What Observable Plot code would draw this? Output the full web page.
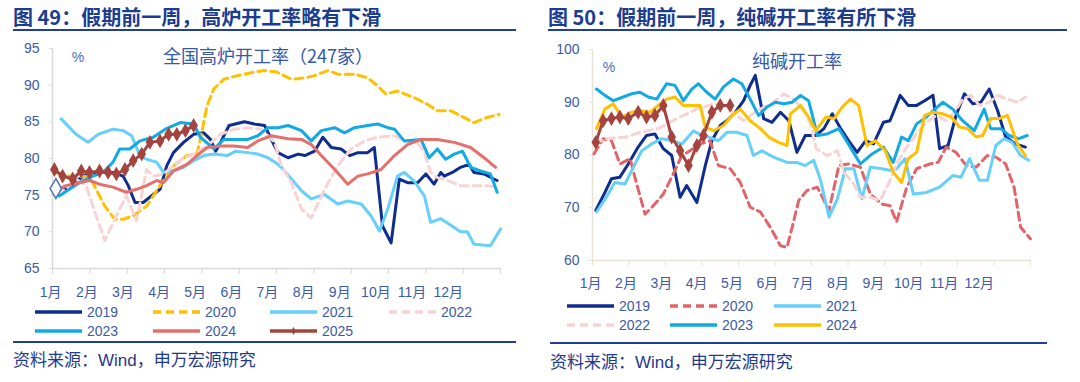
<!DOCTYPE html>
<html><head><meta charset="utf-8">
<script src="https://cdn.jsdelivr.net/npm/d3@7"></script>
<script src="https://cdn.jsdelivr.net/npm/@observablehq/plot@0.6"></script>
<style>
body{margin:0;width:1080px;height:382px;background:#fff;position:relative;overflow:hidden;font-family:"Liberation Sans","Noto Sans CJK SC",sans-serif;}
.abs{position:absolute;white-space:nowrap;line-height:1;}
.title{font-family:"Noto Sans CJK SC";font-weight:bold;font-size:20px;color:#1b3c8f;}
.rule{height:2px;background:#1f3f99;}
.caption{font-family:"Liberation Sans","Noto Sans CJK SC";font-size:17px;color:#1f3a8a;}
.leg{font-size:14px;color:#3c5aa8;}
.inner{font-family:"Noto Sans CJK SC";font-size:18px;color:#3558a8;transform:translate(-50%,-50%);}
.pct{font-size:14px;color:#4a6cc0;transform:translate(-50%,-50%);}
</style></head><body>
<script>
// ---------- data ----------
const monthLabels = ["1月","2月","3月","4月","5月","6月","7月","8月","9月","10月","11月","12月"];

// Left: 全国高炉开工率（247家）, x = position in months, y = %
const bf2019 = [[0.09,75.9],[0.36,75.8],[0.72,77.2],[0.99,78.1],[1.26,78.1],[1.62,78.1],[1.89,77.6],[2.03,76.3],[2.21,74.0],[2.43,74.0],[2.70,75.1],[2.88,75.8],[3.06,79.0],[3.24,80.8],[3.51,82.2],[3.78,83.3],[4.05,83.5],[4.23,82.6],[4.37,81.0],[4.50,82.2],[4.73,84.5],[5.14,85.0],[5.41,84.7],[5.68,84.5],[5.95,81.7],[6.04,80.8],[6.31,80.1],[6.58,80.6],[6.76,80.4],[7.02,81.0],[7.24,82.9],[7.47,81.5],[7.73,81.3],[7.96,80.4],[8.18,80.8],[8.44,80.8],[8.62,81.5],[8.84,70.8],[9.07,68.5],[9.29,77.2],[9.51,76.7],[9.78,76.7],[10.0,77.9],[10.22,76.5],[10.40,78.1],[10.49,77.6],[10.71,78.1],[10.93,78.8],[11.16,79.2],[11.29,78.1],[11.56,77.9],[11.82,77.2],[11.91,77.0]];
const bf2020 = [[0.09,78.1],[0.54,77.5],[0.80,77.5],[0.99,77.6],[1.17,75.8],[1.40,73.5],[1.67,71.7],[1.89,71.7],[2.16,72.2],[2.52,73.5],[2.88,76.3],[3.24,79.0],[3.60,80.4],[3.87,80.6],[3.96,82.6],[4.14,87.2],[4.32,89.5],[4.59,90.8],[4.95,91.3],[5.32,91.7],[5.68,92.0],[6.0,91.8],[6.40,90.8],[6.76,91.0],[7.02,91.3],[7.38,92.0],[7.64,91.5],[8.09,91.5],[8.44,91.0],[8.71,89.9],[8.93,88.8],[9.24,89.2],[9.69,88.3],[10.04,87.4],[10.31,86.5],[10.67,86.5],[11.02,85.6],[11.29,84.9],[11.64,85.6],[11.96,86.0]];
const bf2021 = [[0.23,85.4],[0.63,83.3],[0.95,82.2],[1.22,83.3],[1.62,84.0],[1.89,83.8],[2.12,83.1],[2.34,80.4],[2.52,79.9],[2.79,79.5],[2.97,78.1],[3.24,78.3],[3.51,78.8],[3.78,79.7],[4.05,80.4],[4.32,80.6],[4.68,80.4],[4.91,81.0],[5.23,80.8],[5.50,80.6],[5.77,80.1],[6.04,79.2],[6.13,78.8],[6.40,77.2],[6.67,75.6],[6.93,74.5],[7.29,75.1],[7.64,73.8],[7.91,74.2],[8.27,73.8],[8.53,72.2],[8.76,70.1],[8.98,73.1],[9.24,77.6],[9.42,78.1],[9.69,76.9],[9.96,74.9],[10.13,71.3],[10.40,71.8],[10.67,70.9],[10.93,70.0],[11.11,70.0],[11.29,68.3],[11.73,68.1],[12.0,70.4]];
const bf2022 = [[0.09,75.4],[0.36,75.8],[0.63,77.2],[0.90,76.3],[1.17,72.2],[1.40,68.8],[1.71,72.2],[1.98,74.9],[2.25,71.5],[2.52,78.5],[2.70,77.6],[2.97,77.9],[3.24,79.0],[3.51,80.1],[3.78,80.6],[4.14,81.7],[4.50,83.3],[4.86,84.0],[5.23,84.2],[5.59,84.0],[5.95,82.2],[6.13,79.0],[6.40,76.7],[6.67,73.1],[6.93,71.9],[7.29,75.8],[7.64,79.0],[8.0,81.3],[8.36,82.4],[8.71,82.9],[9.16,83.1],[9.42,82.4],[9.78,82.2],[9.96,80.8],[10.13,78.1],[10.31,77.4],[10.58,77.0],[10.93,76.3],[11.29,76.3],[11.64,76.3],[11.91,76.1]];
const bf2023 = [[0.18,74.9],[0.45,75.8],[0.72,76.7],[1.08,77.6],[1.35,78.1],[1.62,79.5],[1.80,81.3],[2.07,81.3],[2.34,82.4],[2.70,82.9],[3.02,84.0],[3.42,84.9],[3.78,84.7],[3.96,82.9],[4.32,81.3],[4.59,82.6],[5.23,82.6],[5.50,83.1],[5.77,84.2],[6.04,84.2],[6.31,84.5],[6.67,83.8],[6.93,82.4],[7.20,83.8],[7.56,84.2],[7.82,83.5],[8.09,84.2],[8.44,84.5],[8.71,84.7],[8.98,84.2],[9.16,84.0],[9.42,82.4],[9.87,82.6],[10.09,80.1],[10.31,81.3],[10.53,79.9],[10.76,80.6],[10.98,81.0],[11.20,78.8],[11.47,78.3],[11.73,77.9],[11.91,75.4]];
const bf2024 = [[0.09,75.6],[0.36,76.3],[0.72,76.7],[0.99,77.0],[1.26,76.5],[1.62,76.1],[1.98,75.4],[2.25,75.8],[2.52,76.3],[2.79,77.0],[2.97,76.7],[3.24,78.3],[3.60,79.2],[3.87,80.4],[4.14,81.5],[4.50,81.7],[4.86,81.7],[5.23,81.5],[5.50,82.4],[5.86,83.1],[6.31,82.7],[6.67,82.6],[6.93,81.9],[7.20,80.4],[7.56,78.5],[7.91,76.5],[8.18,77.6],[8.44,77.9],[8.80,78.5],[9.16,80.4],[9.51,81.9],[9.87,82.6],[10.31,82.6],[10.76,82.2],[11.20,81.5],[11.56,80.1],[11.87,78.8]];
const bf2025 = [[0.05,78.5],[0.27,77.6],[0.54,77.2],[0.77,78.3],[0.99,78.1],[1.26,78.3],[1.49,78.1],[1.71,77.9],[1.94,78.5],[2.16,79.7],[2.39,80.6],[2.61,82.2],[2.88,82.4],[3.11,83.3],[3.33,83.3],[3.56,83.8],[3.78,84.5]];

// Right: 纯碱开工率
const sa2019 = [[0.09,69.5],[0.34,72.9],[0.52,75.5],[0.75,75.8],[0.98,78.3],[1.25,81.5],[1.48,83.7],[1.71,84.0],[1.94,81.2],[2.17,79.9],[2.40,72.0],[2.58,74.2],[2.86,71.0],[3.09,78.0],[3.27,82.7],[3.50,85.6],[3.68,86.5],[3.91,88.1],[4.14,90.3],[4.32,93.2],[4.46,95.1],[4.69,86.9],[4.92,86.2],[5.15,88.1],[5.38,86.5],[5.60,80.5],[5.83,83.7],[6.12,83.7],[6.34,85.0],[6.57,87.8],[6.80,85.0],[7.02,82.7],[7.25,80.5],[7.48,82.7],[7.70,82.1],[7.97,86.2],[8.15,86.5],[8.43,91.3],[8.65,89.4],[8.88,89.4],[9.10,90.3],[9.33,91.3],[9.51,81.2],[9.74,81.8],[9.96,87.5],[10.19,91.6],[10.42,89.7],[10.64,90.0],[10.87,92.5],[11.10,88.4],[11.32,83.4],[11.59,82.1],[11.86,81.5]];
const sa2020 = [[0.04,80.2],[0.29,83.1],[0.52,82.7],[0.75,78.3],[1.03,79.3],[1.21,74.5],[1.44,68.8],[1.67,70.4],[1.94,72.6],[2.17,75.8],[2.45,79.9],[2.67,80.8],[2.95,82.1],[3.22,82.7],[3.45,78.0],[3.77,77.4],[4.05,74.8],[4.32,70.1],[4.60,69.2],[4.87,66.3],[5.15,62.8],[5.33,62.5],[5.47,66.3],[5.65,71.4],[5.88,73.3],[6.16,73.9],[6.48,69.5],[6.75,78.0],[7.02,78.3],[7.34,77.7],[7.61,72.6],[7.93,70.7],[8.15,70.4],[8.33,67.3],[8.61,73.9],[8.88,77.4],[9.24,78.3],[9.47,78.6],[9.69,81.5],[9.96,80.5],[10.24,78.0],[10.51,77.7],[10.82,79.9],[11.05,79.6],[11.32,78.3],[11.55,73.9],[11.73,66.3],[12.0,64.1]];
const sa2021 = [[0.11,69.2],[0.38,72.0],[0.61,74.8],[0.89,74.5],[1.12,77.7],[1.35,80.8],[1.62,82.1],[1.90,83.1],[2.17,82.7],[2.45,82.1],[2.77,84.6],[2.99,83.7],[3.18,83.4],[3.45,82.7],[3.68,84.3],[3.96,84.3],[4.23,83.7],[4.41,79.9],[4.64,80.8],[4.96,79.6],[5.33,78.6],[5.60,78.6],[5.83,78.0],[6.06,79.0],[6.25,75.2],[6.48,68.2],[6.71,71.7],[6.93,77.4],[7.16,77.4],[7.38,71.7],[7.61,77.7],[7.93,77.4],[8.15,77.1],[8.33,77.4],[8.56,79.3],[8.79,72.6],[9.15,72.9],[9.51,73.9],[9.87,76.1],[10.10,75.8],[10.33,79.3],[10.60,75.2],[10.82,75.2],[11.05,81.8],[11.28,83.1],[11.50,82.4],[11.73,79.9],[11.95,79.0]];
const sa2022 = [[0.06,82.1],[0.34,83.1],[0.93,83.4],[1.30,84.3],[1.80,85.0],[2.31,86.9],[2.86,88.7],[3.32,89.7],[3.68,89.1],[4.14,86.5],[4.51,88.4],[4.96,90.0],[5.24,91.6],[5.51,90.6],[5.79,88.4],[5.97,85.9],[6.13,81.2],[6.43,79.9],[6.71,80.8],[6.89,76.7],[7.16,74.5],[7.34,72.0],[7.61,72.0],[7.88,71.4],[8.11,74.5],[8.33,78.3],[8.61,81.5],[8.88,84.0],[9.15,86.2],[9.42,87.5],[9.69,86.5],[9.92,88.1],[10.14,90.6],[10.37,91.3],[10.60,89.4],[10.87,90.0],[11.10,91.3],[11.37,90.6],[11.64,90.0],[11.86,91.0]];
const sa2023 = [[0.11,92.5],[0.34,91.3],[0.57,90.3],[0.84,91.0],[1.07,91.6],[1.30,91.9],[1.53,91.0],[1.76,90.6],[2.03,93.5],[2.26,93.2],[2.49,90.3],[2.72,92.5],[2.90,93.5],[3.13,91.9],[3.36,90.6],[3.59,92.9],[3.86,94.4],[4.09,93.5],[4.32,90.6],[4.55,87.5],[4.78,89.1],[5.01,90.0],[5.24,89.7],[5.47,90.0],[5.70,91.3],[5.92,90.3],[6.06,86.5],[6.16,83.7],[6.43,84.0],[6.75,85.0],[6.98,82.4],[7.34,78.3],[7.66,80.2],[7.97,81.5],[8.24,78.6],[8.47,83.4],[8.65,82.7],[8.88,85.9],[9.15,87.2],[9.38,88.7],[9.60,90.0],[9.87,88.7],[10.14,86.5],[10.46,84.6],[10.73,88.7],[10.91,85.0],[11.19,85.0],[11.41,83.7],[11.68,83.1],[11.91,83.7]];
const sa2024 = [[0.11,85.0],[0.34,88.7],[0.57,89.7],[0.80,87.2],[1.07,88.1],[1.30,88.4],[1.58,88.1],[1.80,89.4],[2.03,90.6],[2.26,91.0],[2.49,89.4],[2.77,89.4],[2.95,89.4],[3.09,85.3],[3.32,84.6],[3.59,85.6],[3.82,87.5],[4.05,88.7],[4.32,86.5],[4.60,85.0],[4.83,83.4],[5.10,82.4],[5.33,81.8],[5.42,87.8],[5.70,89.4],[5.92,87.2],[6.12,84.6],[6.39,87.2],[6.62,86.9],[6.84,89.1],[7.07,90.6],[7.29,89.4],[7.52,81.8],[7.75,82.7],[8.02,80.8],[8.24,76.7],[8.47,74.8],[8.65,79.3],[8.88,80.5],[9.10,87.5],[9.33,88.1],[9.60,87.8],[9.83,87.2],[10.05,85.3],[10.28,85.0],[10.51,83.4],[10.69,83.7],[10.91,86.9],[11.14,86.9],[11.37,87.5],[11.64,82.1],[11.86,79.9]];
const sa2025 = [[0.09,82.4],[0.29,86.5],[0.52,86.9],[0.75,87.2],[0.98,86.9],[1.25,88.1],[1.48,87.2],[1.71,87.5],[1.94,89.4],[2.17,83.4],[2.40,80.8],[2.63,78.0],[2.86,81.8],[3.04,83.7],[3.27,88.1],[3.50,89.4],[3.77,89.4]];

// ---------- styles ----------
const C = {navy:"#0e2d8e", yellow:"#ffc000", sky:"#66cffa", pink:"#f8d3d3", blue:"#12aae6", salmon:"#e4706c", brown:"#a5443f", red:"#e26468"};
const DASH = "8,5";
const leftSeries = [
  {name:"2019", data:bf2019, color:C.navy},
  {name:"2020", data:bf2020, color:C.yellow, dash:DASH},
  {name:"2021", data:bf2021, color:C.sky},
  {name:"2022", data:bf2022, color:C.pink, dash:DASH},
  {name:"2023", data:bf2023, color:C.blue},
  {name:"2024", data:bf2024, color:C.salmon},
  {name:"2025", data:bf2025, color:C.brown, marker:true}
];
const rightSeries = [
  {name:"2019", data:sa2019, color:C.navy},
  {name:"2020", data:sa2020, color:C.red, dash:DASH},
  {name:"2021", data:sa2021, color:C.sky},
  {name:"2022", data:sa2022, color:C.pink, dash:DASH},
  {name:"2023", data:sa2023, color:C.blue},
  {name:"2024", data:sa2024, color:C.yellow},
  {name:"2025", data:sa2025, color:C.brown, marker:true}
];

const LABEL = "#3c5aa8";
function chart({series, yDomain, yTicks, width, height, mt, mb, ml, mr, axisColor, labelDy, startMarker}) {
  const marks = [
    Plot.axisY({ticks: yTicks, tickSize: 3, tickPadding: 10, stroke: axisColor, fill: LABEL, fontSize: 14, label: null}),
    Plot.axisX({ticks: d3.range(13), tickSize: 6, tickFormat: () => "", stroke: axisColor, label: null}),
    Plot.ruleY([yDomain[0]], {stroke: axisColor, strokeWidth: 1.5}),
    Plot.ruleX([0], {stroke: axisColor, strokeWidth: 1.5}),
    Plot.text(monthLabels, {x: (d, i) => -0.05 + i * 0.968, frameAnchor: "bottom", dy: labelDy, text: d => d, fill: LABEL, fontSize: 14, lineAnchor: "middle"})
  ];
  for (const s of series) {
    marks.push(Plot.line(s.data, {x: d => d[0], y: d => d[1], stroke: s.color, strokeWidth: 3, strokeDasharray: s.dash, strokeLinejoin: "round"}));
    if (s.marker) marks.push(Plot.dot(s.data, {x: d => d[0], y: d => d[1], symbol: "diamond", fill: s.color, r: 4.5}));
  }
  if (startMarker) marks.push(Plot.dot([startMarker], {x: d => d[0], y: d => d[1], symbol: "diamond", fill: "white", stroke: "#4f73b0", strokeWidth: 1.5, r: 6}));
  return Plot.plot({
    width, height, marginTop: mt, marginBottom: mb, marginLeft: ml, marginRight: mr,
    x: {domain: [0, 12]},
    y: {domain: yDomain},
    style: {background: "transparent", fontFamily: "Liberation Sans, Noto Sans CJK SC, sans-serif", fontSize: "14px", overflow: "visible"},
    marks
  });
}

function place(el, left, top) { el.style.position = "absolute"; el.style.left = left + "px"; el.style.top = top + "px"; document.body.append(el); return el; }
function div(cls, text, left, top, extra) { const d = document.createElement("div"); d.className = "abs " + cls; d.textContent = text; d.style.left = left + "px"; d.style.top = top + "px"; if (extra) Object.assign(d.style, extra); document.body.append(d); return d; }
function swatch(s, left, cy) {
  const w = 49;
  const svg = d3.create("svg").attr("width", w).attr("height", 12).style("position", "absolute").style("left", left + "px").style("top", (cy - 6) + "px");
  svg.append("line").attr("x1", 1).attr("x2", w - 1).attr("y1", 6).attr("y2", 6).attr("stroke", s.color).attr("stroke-width", 3.5).attr("stroke-dasharray", s.dash || null);
  if (s.marker) svg.append("path").attr("d", d3.symbol(d3.symbolDiamond, 18)()).attr("transform", `translate(${w / 2},6)`).attr("fill", s.color);
  document.body.append(svg.node());
  div("leg", s.name, left + w + 4, cy - 7);
}

// ---------- left panel ----------
div("title", "图 49：假期前一周，高炉开工率略有下滑", 13, 7);
div("rule", "", 13, 29, {width: "503px"});
place(chart({series: leftSeries, yDomain: [65, 95], yTicks: d3.range(65, 96, 5), width: 530, height: 272, mt: 12, mb: 40, ml: 52, mr: 30, axisColor: "#d9d9d9", labelDy: 24, startMarker: bf2019[0]}), 0, 36);
div("inner", "全国高炉开工率（247家）", 268, 55);
div("pct", "%", 78, 57);
const lx = [34, 152, 269, 388];
leftSeries.forEach((s, i) => swatch(s, lx[i % 4], i < 4 ? 312 : 331));
div("rule", "", 13, 341, {width: "503px"});
div("caption", "资料来源：Wind，申万宏源研究", 13, 352);

// ---------- right panel ----------
div("title", "图 50：假期前一周，纯碱开工率有所下滑", 548, 7);
div("rule", "", 548, 29, {width: "519px"});
place(chart({series: rightSeries, yDomain: [60, 100], yTicks: d3.range(60, 101, 10), width: 540, height: 264, mt: 13, mb: 40, ml: 52, mr: 50, axisColor: "#e6e2d6", labelDy: 23}), 540, 36);
div("inner", "纯碱开工率", 797, 60);
div("pct", "%", 609, 67);
const rx = [566, 669, 773];
rightSeries.slice(0, 6).forEach((s, i) => swatch(s, rx[i % 3], i < 3 ? 306 : 325));
div("rule", "", 550, 342, {width: "497px"});
div("caption", "资料来源：Wind，申万宏源研究", 550, 354);
</script>
</body></html>
